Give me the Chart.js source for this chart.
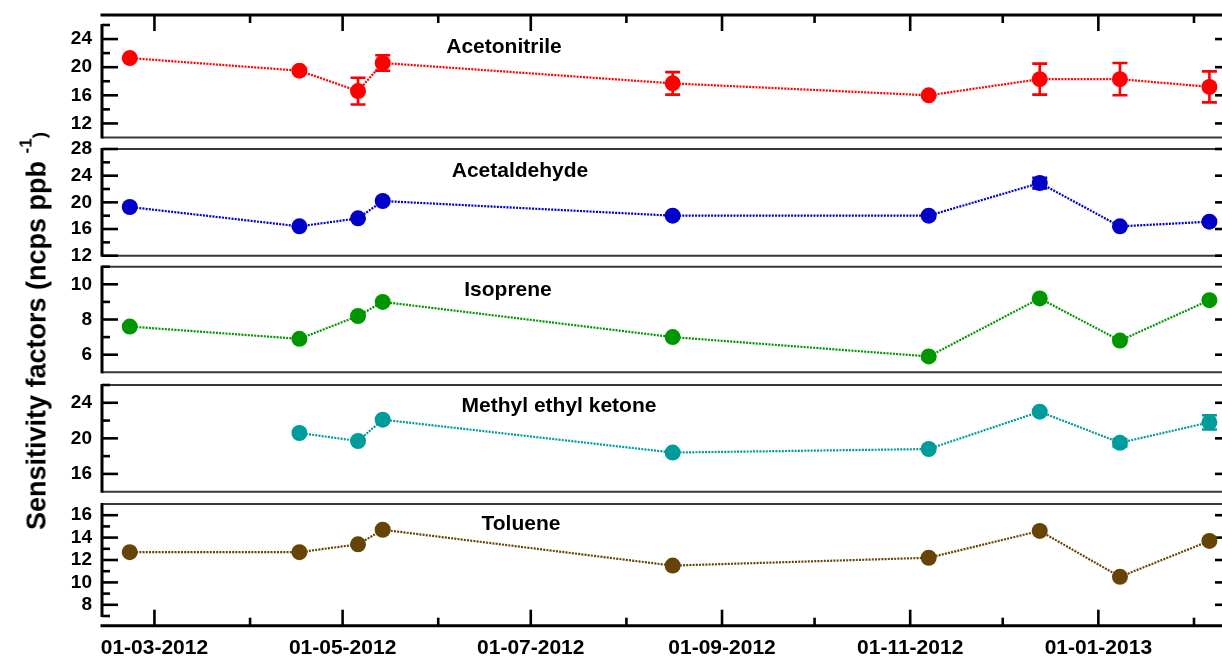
<!DOCTYPE html>
<html>
<head>
<meta charset="utf-8">
<script src="https://cdn.jsdelivr.net/npm/chart.js@4.4.1/dist/chart.umd.min.js"></script>
<style>
  html, body { margin: 0; padding: 0; background: #fff; overflow: hidden; }
  #wrap { position: relative; width: 1222px; height: 659px; overflow: hidden; background: #fff; }
  #wrap canvas { position: absolute; left: 0; top: 0; }
  #ytitle {
    position: absolute; left: 37px; top: 331px;
    transform: translate(-50%, -50%) rotate(-90deg);
    white-space: nowrap; color: #000;
    font: bold 27px 'Liberation Sans', Arial, sans-serif; line-height: 27px;
  }
  #ytitle .sup { font-size: 17px; line-height: 17px; position: relative; top: -14px; }
  #ytitle .par { font-size: 19px; line-height: 19px; }
</style>
</head>
<body>
<div id="wrap">
  <canvas id="c1" width="1240" height="680"></canvas>
  <canvas id="c2" width="1240" height="680"></canvas>
  <canvas id="c3" width="1240" height="680"></canvas>
  <canvas id="c4" width="1240" height="680"></canvas>
  <canvas id="c5" width="1240" height="680"></canvas>
  <div id="ytitle">Sensitivity factors (ncps ppb <span class="sup">-1</span><span class="par">)</span></div>
</div>
<script>
// Calibration dates (YYYY-MM-DD)
const sampleDates = ['2012-02-22', '2012-04-17', '2012-05-06', '2012-05-14', '2012-08-16',
                     '2012-11-07', '2012-12-13', '2013-01-08', '2013-02-06'];

// Sensitivity factors (ncps/ppb) and their uncertainties
const acetonitrile    = [21.3, 19.5, 16.6, 20.6, 17.7, 16.0, 18.3, 18.3, 17.2];
const acetonitrileErr = [null, null, 1.9, 1.1, 1.6, null, 2.2, 2.3, 2.2];
const acetaldehyde    = [19.3, 16.4, 17.6, 20.2, 18.0, 18.0, 22.9, 16.4, 17.1];
const acetaldehydeErr = [null, null, null, null, null, null, 0.8, null, null];
const isoprene        = [7.6, 6.9, 8.2, 9.0, 7.0, 5.9, 9.2, 6.8, 9.1];
const isopreneErr     = [null, null, null, null, null, null, null, null, null];
const mek             = [null, 20.6, 19.7, 22.1, 18.4, 18.8, 23.0, 19.5, 21.8];
const mekErr          = [null, null, null, null, null, null, null, 0.4, 0.8];
const toluene         = [12.7, 12.7, 13.4, 14.7, 11.5, 12.2, 14.6, 10.5, 13.7];
const tolueneErr      = [null, null, null, null, null, null, null, null, null];

const compoundNames = ['Acetonitrile', 'Acetaldehyde', 'Isoprene', 'Methyl ethyl ketone', 'Toluene'];

// Date axis: range, labelled ticks and unlabelled monthly ticks
const dateRange = ['2012-02-13', '2013-02-13'];
const majorDateTicks = ['01-03-2012', '01-05-2012', '01-07-2012', '01-09-2012', '01-11-2012', '01-01-2013'];
const minorDateTicks = ['01-04-2012', '01-06-2012', '01-08-2012', '01-10-2012', '01-12-2012', '01-02-2013'];

// Value axes: range, tick marks and labelled ticks per panel
const acetonitrileRange  = [10, 26];
const acetonitrileTicks  = [12, 14, 16, 18, 20, 22, 24, 26];
const acetonitrileLabels = [12, 16, 20, 24];
const acetaldehydeRange  = [12, 28];
const acetaldehydeTicks  = [12, 14, 16, 18, 20, 22, 24, 26, 28];
const acetaldehydeLabels = [12, 16, 20, 24, 28];
const isopreneRange      = [5, 11];
const isopreneTicks      = [6, 7, 8, 9, 10, 11];
const isopreneLabels     = [6, 8, 10];
const mekRange           = [14, 26];
const mekTicks           = [16, 18, 20, 22, 24, 26];
const mekLabels          = [16, 20, 24];
const tolueneRange       = [7, 17];
const tolueneTicks       = [7, 8, 9, 10, 11, 12, 13, 14, 15, 16];
const tolueneLabels      = [8, 10, 12, 14, 16];

const toTime = s => { const [y, m, d] = s.split('-').map(Number); return Date.UTC(y, m - 1, d); };
const fromDmy = s => { const [d, m, y] = s.split('-').map(Number); return Date.UTC(y, m - 1, d); };
const dateTickLabel = new Map(majorDateTicks.map(s => [fromDmy(s), s]));
const allDateTicks = majorDateTicks.concat(minorDateTicks).map(fromDmy).sort((a, b) => a - b);

const W = 1240, H = 680, AXIS_LEFT = 102, AREA_RIGHT = 1231;
const FONT = "'Liberation Sans', Arial, sans-serif";

const panels = [
  { canvas: 'c1', name: compoundNames[0], values: acetonitrile, errors: acetonitrileErr, color: '#ff0000',
    range: acetonitrileRange, ticks: acetonitrileTicks, labels: acetonitrileLabels,
    top: 25, bottom: 137.5, titleX: 504, titleBase: 52.5, topAxis: true },
  { canvas: 'c2', name: compoundNames[1], values: acetaldehyde, errors: acetaldehydeErr, color: '#0000c8',
    range: acetaldehydeRange, ticks: acetaldehydeTicks, labels: acetaldehydeLabels,
    top: 149, bottom: 255.7, titleX: 520, titleBase: 176.5 },
  { canvas: 'c3', name: compoundNames[2], values: isoprene, errors: isopreneErr, color: '#009600',
    range: isopreneRange, ticks: isopreneTicks, labels: isopreneLabels,
    top: 266.7, bottom: 372.3, titleX: 508, titleBase: 296 },
  { canvas: 'c4', name: compoundNames[3], values: mek, errors: mekErr, color: '#009b9b',
    range: mekRange, ticks: mekTicks, labels: mekLabels,
    top: 385, bottom: 491.7, titleX: 559, titleBase: 411.5 },
  { canvas: 'c5', name: compoundNames[4], values: toluene, errors: tolueneErr, color: '#664406',
    range: tolueneRange, ticks: tolueneTicks, labels: tolueneLabels,
    top: 504, bottom: 616, titleX: 521, titleBase: 530, bottomAxis: true }
];

// Frame, inward tick marks, free date axes and error bars for one panel
const panelFrame = {
  id: 'panelFrame',
  beforeDatasetsDraw(chart, args, o) {
    const { ctx, chartArea: a, scales: { x, y } } = chart;
    ctx.save();
    ctx.lineCap = 'butt';
    // horizontal box lines
    ctx.strokeStyle = '#383838';
    ctx.lineWidth = 2;
    if (!o.topAxis) { ctx.beginPath(); ctx.moveTo(a.left, a.top); ctx.lineTo(W, a.top); ctx.stroke(); }
    if (!o.bottomAxis) { ctx.beginPath(); ctx.moveTo(a.left, a.bottom); ctx.lineTo(W, a.bottom); ctx.stroke(); }
    // left and right value axes
    ctx.strokeStyle = '#000';
    ctx.lineWidth = 3;
    ctx.beginPath(); ctx.moveTo(a.left, a.top - 1); ctx.lineTo(a.left, a.bottom + 1); ctx.stroke();
    ctx.beginPath(); ctx.moveTo(a.right, a.top); ctx.lineTo(a.right, a.bottom); ctx.stroke();
    ctx.lineWidth = 2.6;
    y.ticks.forEach(t => {
      const py = y.getPixelForValue(t.value);
      const len = o.major.includes(t.value) ? 16 : 8;
      ctx.beginPath(); ctx.moveTo(a.left, py); ctx.lineTo(a.left + len, py); ctx.stroke();
      ctx.beginPath(); ctx.moveTo(a.right, py); ctx.lineTo(a.right - len, py); ctx.stroke();
    });
    // free date axes offset from the plot area
    const drawDateAxis = (ay, dir) => {
      ctx.lineWidth = 3;
      ctx.beginPath(); ctx.moveTo(a.left - 1.5, ay); ctx.lineTo(W, ay); ctx.stroke();
      ctx.lineWidth = 2.6;
      x.ticks.forEach(t => {
        const px = x.getPixelForValue(t.value);
        const len = dateTickLabel.has(t.value) ? 16 : 8;
        ctx.beginPath(); ctx.moveTo(px, ay); ctx.lineTo(px, ay + dir * len); ctx.stroke();
      });
    };
    if (o.topAxis) drawDateAxis(a.top - 10, 1);
    if (o.bottomAxis) drawDateAxis(a.bottom + 9.7, -1);
    ctx.restore();
  },
  afterDatasetsDraw(chart, args, o) {
    const { ctx, scales: { x, y } } = chart;
    ctx.save();
    ctx.strokeStyle = o.color;
    ctx.lineWidth = 2.6;
    o.errors.forEach((e, i) => {
      const v = o.values[i];
      if (e == null || v == null) return;
      const px = x.getPixelForValue(toTime(sampleDates[i]));
      const hi = y.getPixelForValue(v + e), lo = y.getPixelForValue(v - e);
      ctx.beginPath();
      ctx.moveTo(px, hi); ctx.lineTo(px, lo);
      ctx.moveTo(px - 7.5, hi); ctx.lineTo(px + 7.5, hi);
      ctx.moveTo(px - 7.5, lo); ctx.lineTo(px + 7.5, lo);
      ctx.stroke();
    });
    ctx.restore();
  },
  afterDraw(chart, args, o) {
    const { ctx } = chart;
    ctx.save();
    ctx.fillStyle = '#000';
    ctx.font = 'bold 21px ' + FONT;
    ctx.textAlign = 'center';
    ctx.textBaseline = 'alphabetic';
    ctx.fillText(o.title, o.titleX, o.titleBase);
    ctx.restore();
  }
};

panels.forEach(p => {
  const points = sampleDates.map((d, i) => ({ x: toTime(d), y: p.values[i] }));
  const xHeight = p.bottomAxis ? 43 : 0;
  new Chart(document.getElementById(p.canvas), {
    type: 'line',
    data: {
      datasets: [{
        label: p.name,
        data: points,
        borderColor: p.color,
        backgroundColor: p.color,
        borderWidth: 2.2,
        borderDash: [2, 1.2],
        tension: 0,
        spanGaps: false,
        pointRadius: 8,
        pointHoverRadius: 8,
        pointBorderWidth: 0,
        pointBackgroundColor: p.color,
        pointBorderColor: p.color,
        clip: false
      }]
    },
    options: {
      responsive: false,
      animation: false,
      events: [],
      devicePixelRatio: 1,
      layout: { padding: { left: 0, right: W - AREA_RIGHT, top: p.top, bottom: H - p.bottom - xHeight } },
      plugins: {
        legend: { display: false },
        tooltip: { enabled: false },
        panelFrame: {
          title: p.name, titleX: p.titleX, titleBase: p.titleBase,
          major: p.labels, topAxis: !!p.topAxis, bottomAxis: !!p.bottomAxis,
          errors: p.errors, values: p.values, color: p.color
        }
      },
      scales: {
        x: {
          type: 'linear',
          min: toTime(dateRange[0]),
          max: toTime(dateRange[1]),
          afterBuildTicks: s => { s.ticks = allDateTicks.map(v => ({ value: v })); },
          afterFit: s => { s.height = xHeight; },
          grid: { display: false, drawTicks: false },
          border: { display: false },
          ticks: {
            display: !!p.bottomAxis,
            autoSkip: false,
            maxRotation: 0,
            padding: 20,
            color: '#000',
            font: { family: FONT, size: 21, weight: 'bold' },
            callback: v => dateTickLabel.get(v) || ''
          }
        },
        y: {
          type: 'linear',
          min: p.range[0],
          max: p.range[1],
          afterBuildTicks: s => { s.ticks = p.ticks.map(v => ({ value: v })); },
          afterFit: s => { s.width = AXIS_LEFT; },
          grid: { display: false, drawTicks: false },
          border: { display: false },
          ticks: {
            autoSkip: false,
            padding: 10,
            color: '#000',
            font: { family: FONT, size: 19, weight: 'bold' },
            callback: v => (p.labels.includes(v) ? String(v) : '')
          }
        }
      }
    },
    plugins: [panelFrame]
  });
});
</script>
</body>
</html>
